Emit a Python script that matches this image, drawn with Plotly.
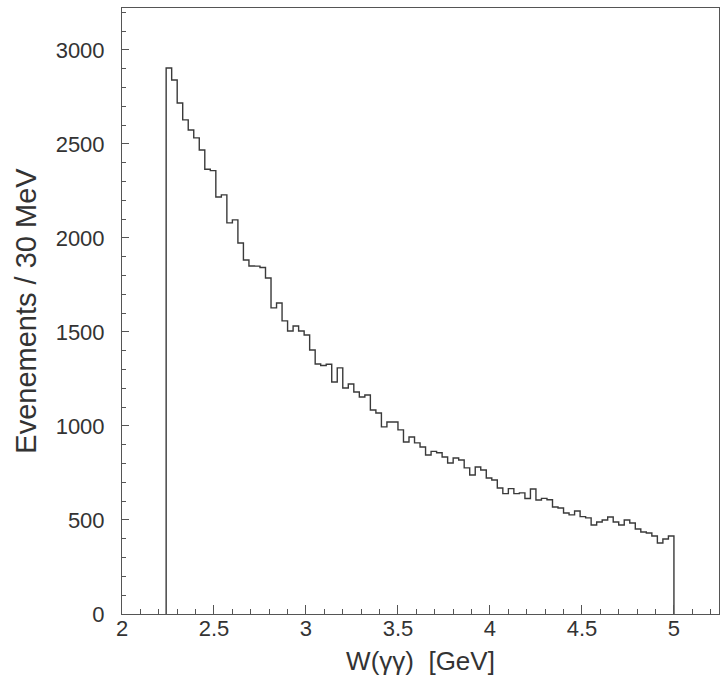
import plotly.graph_objects as go

# Histogram: 30 MeV bins starting at 2.24 GeV
bin_start = 2.24
bin_width = 0.03
counts = [
    2904, 2840, 2718, 2628, 2574, 2532, 2468, 2365, 2358, 2218,
    2229, 2080, 2096, 1973, 1883, 1851, 1850, 1843, 1787, 1628,
    1654, 1559, 1505, 1532, 1505, 1484, 1404, 1330, 1322, 1328,
    1234, 1309, 1202, 1223, 1181, 1154, 1165, 1085, 1069, 995,
    1021, 1021, 979, 915, 941, 910, 888, 846, 865, 858,
    835, 803, 830, 819, 777, 739, 782, 766, 723, 713,
    670, 640, 667, 640, 644, 614, 665, 606, 615, 608,
    569, 564, 537, 527, 548, 518, 511, 473, 489, 500,
    516, 489, 473, 500, 484, 452, 436, 431, 415, 378,
    399, 415,
]
x_tickvals = [2, 2.5, 3, 3.5, 4, 4.5, 5]
x_ticktext = ["2", "2.5", "3", "3.5", "4", "4.5", "5"]
y_tickvals = [0, 500, 1000, 1500, 2000, 2500, 3000]

edges = [round(bin_start + i * bin_width, 4) for i in range(len(counts) + 1)]
xs = [edges[0]] + edges[:-1] + [edges[-1], edges[-1]]
ys = [0] + counts + [counts[-1], 0]

line_col = "#3a3a3a"
font_fam = "Liberation Sans, Arial, Helvetica, sans-serif"

fig = go.Figure()
fig.add_trace(go.Scatter(
    x=xs, y=ys, mode="lines", line=dict(shape="hv", color=line_col, width=1.4),
    showlegend=False, hoverinfo="skip",
))

fig.update_layout(
    width=721, height=690, autosize=False,
    margin=dict(l=122, r=2, t=8, b=76, autoexpand=False),
    paper_bgcolor="white", plot_bgcolor="white",
    font=dict(family=font_fam, color="#333333", size=17),
)
fig.update_xaxes(
    range=[2, 5.245], showgrid=False, zeroline=False, automargin=False,
    showline=True, linecolor="#555555", linewidth=1, mirror=True,
    tickvals=x_tickvals, ticktext=x_ticktext,
    ticks="inside", ticklen=9, tickcolor="#555555", tickwidth=1,
    minor=dict(dtick=0.1, tick0=2, ticks="inside", ticklen=5, tickcolor="#555555"),
    tickfont=dict(size=22), ticklabelstandoff=-5,
    title=dict(text="W(γγ)  [GeV]", font=dict(size=26), standoff=11),
)
fig.update_yaxes(
    range=[0, 3223], showgrid=False, zeroline=False, automargin=False,
    showline=True, linecolor="#555555", linewidth=1, mirror=True,
    tickvals=y_tickvals,
    ticks="inside", ticklen=7, tickcolor="#555555", tickwidth=1,
    minor=dict(dtick=100, tick0=0, ticks="inside", ticklen=4, tickcolor="#555555"),
    tickfont=dict(size=22), ticklabelstandoff=12,
    title=dict(text="Evenements / 30 MeV", font=dict(size=29), standoff=10),
)

post = (
    "document.body.style.margin='0';"
    "document.body.style.overflow='hidden';"
    "var gd=document.getElementById('{plot_id}');"
    "Plotly.relayout(gd,{width:721,height:690});"
)
fig.write_html("out.html", config={"responsive": False, "displayModeBar": False},
               post_script=post)
